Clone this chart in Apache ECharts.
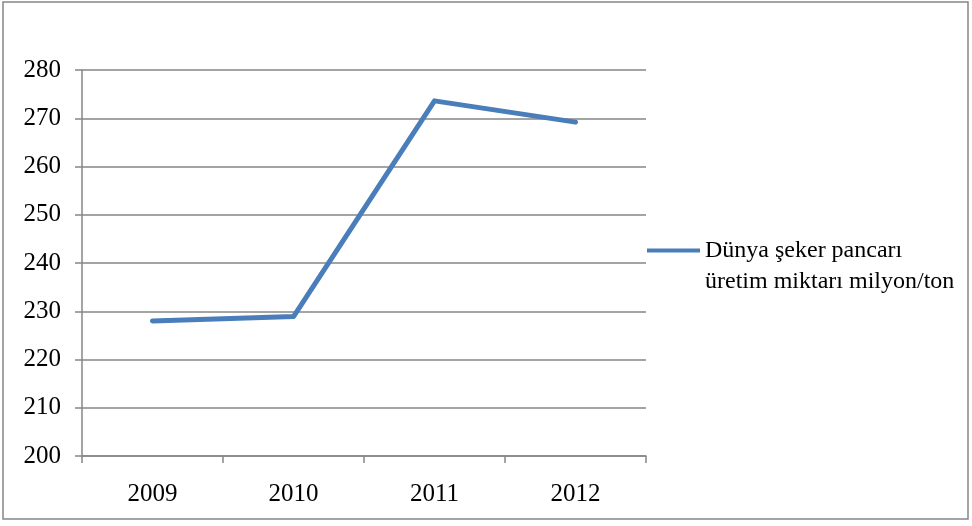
<!DOCTYPE html>
<html>
<head>
<meta charset="utf-8">
<script src="https://cdn.jsdelivr.net/npm/echarts@6/dist/echarts.min.js"></script>
<style>
html,body{margin:0;padding:0;background:#fff;}
#c{width:972px;height:526px;}
</style>
</head>
<body>
<div id="c"></div>
<script>
const categories = ['2009', '2010', '2011', '2012'];
const seriesName = 'Dünya şeker pancarı\nüretim miktarı milyon/ton';
const values = [228.0, 228.9, 273.6, 269.2];
const yMin = 200, yMax = 280, yStep = 10;

const chart = echarts.init(document.getElementById('c'), null, {renderer: 'canvas'});
const font = 'Liberation Serif';
const grey = '#868686';
chart.setOption({
  animation: false,
  backgroundColor: '#fff',
  graphic: [{
    type: 'rect',
    shape: {x: 3, y: 2, width: 965, height: 517},
    style: {fill: 'none', stroke: grey, lineWidth: 1.5},
    silent: true
  }],
  grid: {left: 82, right: 326, top: 70, bottom: 70, containLabel: false},
  xAxis: {
    type: 'category',
    data: categories,
    boundaryGap: true,
    axisLine: {lineStyle: {color: grey, width: 1.5}},
    axisTick: {show: true, length: 7, lineStyle: {color: grey, width: 1.5}},
    axisLabel: {color: '#000', fontFamily: font, fontSize: 25, margin: 26}
  },
  yAxis: {
    type: 'value',
    min: yMin, max: yMax, interval: yStep,
    axisLine: {show: true, lineStyle: {color: grey, width: 1.5}},
    axisTick: {show: true, length: 7, lineStyle: {color: grey, width: 1.5}},
    axisLabel: {color: '#000', fontFamily: font, fontSize: 25, margin: 21},
    splitLine: {show: true, lineStyle: {color: grey, width: 1.5}}
  },
  legend: {
    orient: 'vertical',
    left: 642, top: 199,
    itemWidth: 53, itemHeight: 4,
    itemGap: 0,
    icon: 'rect',
    formatter: function (name) { return '\u00a0\n' + name; },
    textStyle: {fontFamily: font, fontSize: 24, color: '#000', lineHeight: 31},
    data: [seriesName]
  },
  series: [{
    name: seriesName,
    type: 'line',
    data: values,
    symbol: 'none',
    lineStyle: {color: '#4a7ebb', width: 5, cap: 'round', join: 'round'},
    itemStyle: {color: '#4a7ebb'}
  }]
});
</script>
</body>
</html>
